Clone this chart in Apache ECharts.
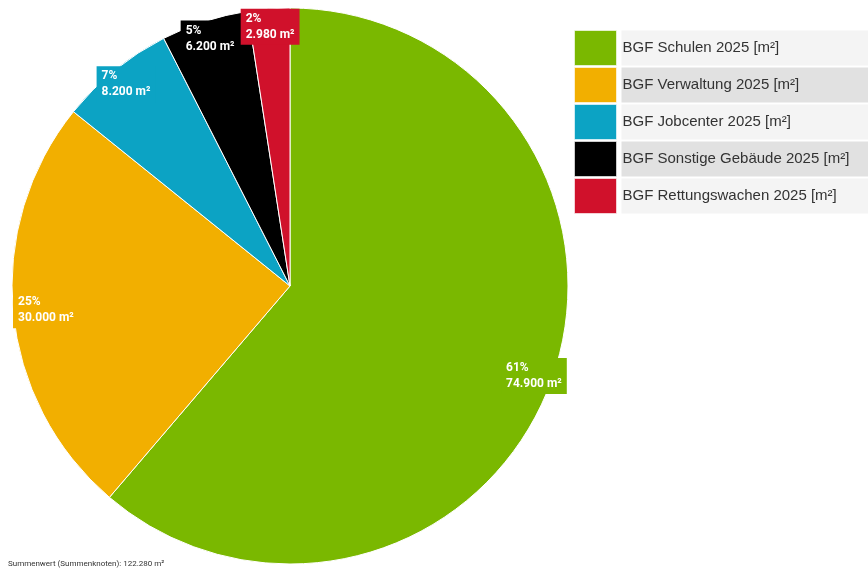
<!DOCTYPE html>
<html>
<head>
<meta charset="utf-8">
<script src="https://cdn.jsdelivr.net/npm/echarts@6/dist/echarts.min.js"></script>
<style>html,body{margin:0;padding:0;background:#fff}#c{width:868px;height:568px}</style>
</head>
<body>
<div id="c"></div>
<script>
const categories = ['BGF Schulen 2025 [m²]', 'BGF Verwaltung 2025 [m²]', 'BGF Jobcenter 2025 [m²]', 'BGF Sonstige Gebäude 2025 [m²]', 'BGF Rettungswachen 2025 [m²]'];
const values = [74900, 30000, 8200, 6200, 2980];
const colors = ['#7ab800', '#f2af00', '#0ca3c4', '#000000', '#d0112b'];
const unit = 'm²';
const sumLabel = 'Summenwert (Summenknoten)';

function fmt(n) {
  return String(Math.round(n)).replace(/\B(?=(\d{3})+(?!\d))/g, '.');
}
const total = values.reduce((a, b) => a + b, 0);
const FONT = 'Roboto, "Noto Sans", sans-serif';
const LFONT = '"Liberation Sans", Arial, sans-serif';

const chart = echarts.init(document.getElementById('c'), null, {renderer: 'canvas'});
const mainData = categories.map((n, i) => ({name: n, value: values[i], itemStyle: {color: colors[i]}}));
const labelData = categories.map((n, i) => ({name: n, value: values[i], label: {backgroundColor: colors[i]}}));

chart.setOption({
  animation: false,
  title: {
    text: sumLabel + ': ' + fmt(total) + ' ' + unit,
    left: 8, bottom: 0, padding: 0,
    textStyle: {fontSize: 8, fontWeight: 'normal', color: '#333', fontFamily: FONT}
  },
  legend: {
    orient: 'vertical',
    left: 574, top: 30, padding: 0,
    itemWidth: 42, itemHeight: 35, itemGap: 1,
    icon: 'rect',
    itemStyle: {borderColor: 'rgba(255,255,255,0.6)', borderWidth: 1},
    data: categories.map((n, i) => ({
      name: n,
      textStyle: {
        backgroundColor: i % 2 === 0 ? '#f4f4f4' : '#e1e1e1',
        width: 246, height: 35, lineHeight: 35,
        padding: [0, 0, 0, 1],
        fontSize: 15, color: '#333', fontFamily: LFONT
      }
    }))
  },
  series: [
    {
      type: 'pie',
      center: [290, 286],
      radius: 278,
      startAngle: 90,
      clockwise: true,
      data: mainData,
      label: {show: false},
      labelLine: {show: false},
      itemStyle: {borderColor: '#fff', borderWidth: 1},
      emphasis: {disabled: true}
    },
    {
      type: 'pie',
      center: [290, 286],
      radius: [236, 278],
      startAngle: 90,
      clockwise: true,
      silent: true,
      data: labelData,
      itemStyle: {color: 'rgba(0,0,0,0)'},
      emphasis: {disabled: true},
      labelLine: {show: false},
      label: {
        show: true,
        position: 'inside',
        padding: [2, 5, 2, 5],
        formatter: p => '{t|' + Math.round(p.percent) + '%}\n{t|' + fmt(p.value) + ' ' + unit + '}',
        rich: {
          t: {align: 'left', color: '#fff', fontWeight: 'bold', fontSize: 12, lineHeight: 16, fontFamily: FONT}
        }
      },
      labelLayout: function (p) {
        const r = p.labelRect;
        if (r.x < 13) return {x: 13 + r.width / 2};
        return {};
      }
    }
  ]
});
</script>
</body>
</html>
